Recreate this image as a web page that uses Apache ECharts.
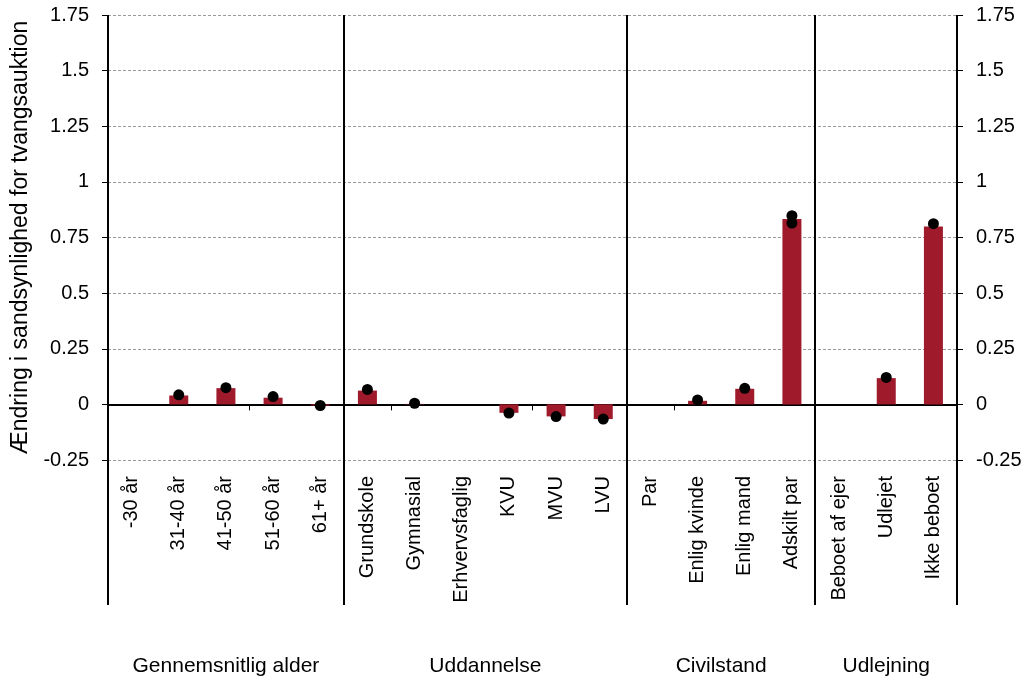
<!DOCTYPE html>
<html>
<head>
<meta charset="utf-8">
<script src="https://cdn.jsdelivr.net/npm/echarts@6/dist/echarts.min.js"></script>
<style>
html,body{margin:0;padding:0;background:#fff;}
#c{width:1025px;height:680px;}
</style>
</head>
<body>
<div id="c"></div>
<script>
const categories = ['-30 år','31-40 år','41-50 år','51-60 år','61+ år','Grundskole','Gymnasial','Erhvervsfaglig','KVU','MVU','LVU','Par','Enlig kvinde','Enlig mand','Adskilt par','Beboet af ejer','Udlejet','Ikke beboet'];
const barValues = [null,0.040,0.073,0.030,-0.005,0.062,0.002,null,-0.038,-0.054,-0.066,null,0.016,0.070,0.833,null,0.118,0.800];
const dotValues = [null,0.043,0.075,0.035,-0.005,0.067,0.005,null,-0.039,-0.055,-0.066,null,0.020,0.072,0.848,null,0.121,0.812];
const dotValues2 = [null,null,null,null,null,null,null,null,null,null,null,null,null,null,0.815,null,null,null];
const groupNames = ['Gennemsnitlig alder','Uddannelse','Civilstand','Udlejning'];
const groupSizes = [5,6,4,3];
const yMin = -0.25, yMax = 1.75, yStep = 0.25;
const yTitle = 'Ændring i sandsynlighed for tvangsauktion';

const FONT = "'Liberation Sans', Arial, sans-serif";
const chart = echarts.init(document.getElementById('c'));

const yAxisCommon = {
  type: 'value', min: yMin, max: yMax, interval: yStep,
  axisLine: {show: false},
  axisTick: {show: true, length: 6, lineStyle: {color: '#000', width: 1}},
  axisLabel: {color: '#000', fontSize: 20, fontFamily: FONT, margin: 19},
};

chart.setOption({
  animation: false,
  grid: {left: 108, right: 68, top: 15, bottom: 220, containLabel: false},
  xAxis: [
    {
      type: 'category', data: categories,
      axisLine: {onZero: true, lineStyle: {color: '#000', width: 2}},
      axisTick: {show: true, length: 6, lineStyle: {color: '#000', width: 1}},
      axisLabel: {show: false},
      splitLine: {show: false}
    },
    {
      type: 'category', data: categories, position: 'bottom',
      axisLine: {show: false, onZero: false},
      axisTick: {show: false},
      axisLabel: {show: true, rotate: 90, interval: 0, margin: 16, color: '#000', fontSize: 20, fontFamily: FONT},
      splitLine: {show: false}
    }
  ],
  yAxis: [
    Object.assign({}, yAxisCommon, {
      position: 'left',
      name: yTitle, nameLocation: 'middle', nameGap: 76,
      nameTextStyle: {color: '#000', fontSize: 23, fontFamily: FONT},
      splitLine: {show: true, lineStyle: {color: '#9a9a9a', type: [3, 2], width: 1}}
    }),
    Object.assign({}, yAxisCommon, {
      position: 'right',
      splitLine: {show: false}
    })
  ],
  series: [
    {
      type: 'bar', data: barValues, xAxisIndex: 0, yAxisIndex: 0,
      barWidth: 19, itemStyle: {color: '#9f1a2b'}, z: 2
    },
    {
      type: 'scatter', data: dotValues, xAxisIndex: 0, yAxisIndex: 0,
      symbol: 'circle', symbolSize: 11, itemStyle: {color: '#000', opacity: 1}, z: 3
    },
    {
      type: 'scatter', data: dotValues2, xAxisIndex: 0, yAxisIndex: 0,
      symbol: 'circle', symbolSize: 11, itemStyle: {color: '#000', opacity: 1}, z: 3
    }
  ]
});

// separators and group labels from the axis scale
const c0 = chart.convertToPixel({xAxisIndex: 0}, 0);
const c1 = chart.convertToPixel({xAxisIndex: 0}, 1);
const cw = c1 - c0;
const boundary = i => c0 - cw / 2 + i * cw;
const yTop = chart.convertToPixel({yAxisIndex: 0}, yMax);
const lineBottom = 605;
const labelY = 666;

const graphics = [];
let idx = 0;
const bounds = [0];
groupSizes.forEach(s => { idx += s; bounds.push(idx); });
bounds.forEach(b => {
  const x = Math.round(boundary(b));
  graphics.push({
    type: 'line', silent: true, z: 10,
    shape: {x1: x, y1: yTop, x2: x, y2: lineBottom},
    style: {stroke: '#000', lineWidth: 2}
  });
});
groupNames.forEach((name, g) => {
  const xm = (boundary(bounds[g]) + boundary(bounds[g + 1])) / 2;
  graphics.push({
    type: 'text', silent: true, z: 10,
    x: xm, y: labelY,
    style: {text: name, fill: '#000', font: '21px ' + FONT, textAlign: 'center', textVerticalAlign: 'middle'}
  });
});
chart.setOption({graphic: graphics});
</script>
</body>
</html>
